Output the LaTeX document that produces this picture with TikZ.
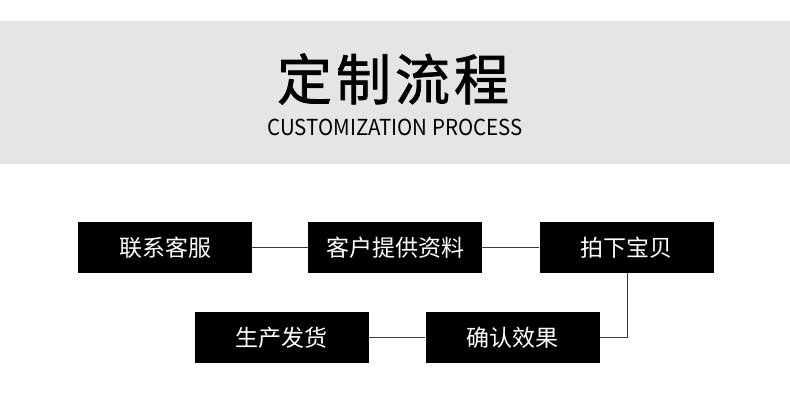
\documentclass[tikz,border=0pt]{standalone}
\usepackage{fontspec}
\newfontfamily\cjk{Noto Sans CJK SC}
\newfontfamily\cjkm[FakeBold=1.4]{Noto Sans CJK SC}
\definecolor{bandgray}{HTML}{E5E5E5}
\definecolor{linegray}{HTML}{3A3A3A}
\begin{document}
\begin{tikzpicture}[x=1pt,y=1pt,
  stepbox/.style={fill=black, draw=none, text=white, minimum width=174pt, minimum height=51pt, inner sep=0pt, font=\cjk\fontsize{23}{23}\selectfont},
  link/.style={draw=linegray, line width=1.1pt}]
\useasboundingbox (0,0) rectangle (790,402);
\fill[white] (0,0) rectangle (790,402);
\fill[bandgray] (0,238) rectangle (790,381);
\node (title) at (393,323) {\cjkm\fontsize{55}{55}\selectfont 定\kern4pt 制\kern4pt 流\kern4pt 程};
\node (sub) at (395,274.5) {\scalebox{0.93}[1]{\cjk\fontsize{22}{22}\selectfont CUSTOMIZATION PROCESS}};
\node[stepbox] (b1) at (165,154.5) {联系客服};
\node[stepbox] (b2) at (395,154.5) {客户提供资料};
\node[stepbox] (b3) at (626.5,154.5) {拍下宝贝};
\node[stepbox] (b4) at (281.5,64.5) {生产发货};
\node[stepbox] (b5) at (512.5,64.5) {确认效果};
\draw[link] (b1.east) -- (b2.west);
\draw[link] (b2.east) -- (b3.west);
\draw[link] ([xshift=1pt]b3.south) |- (b5.east);
\draw[link] (b5.west) -- (b4.east);
\end{tikzpicture}
\end{document}
